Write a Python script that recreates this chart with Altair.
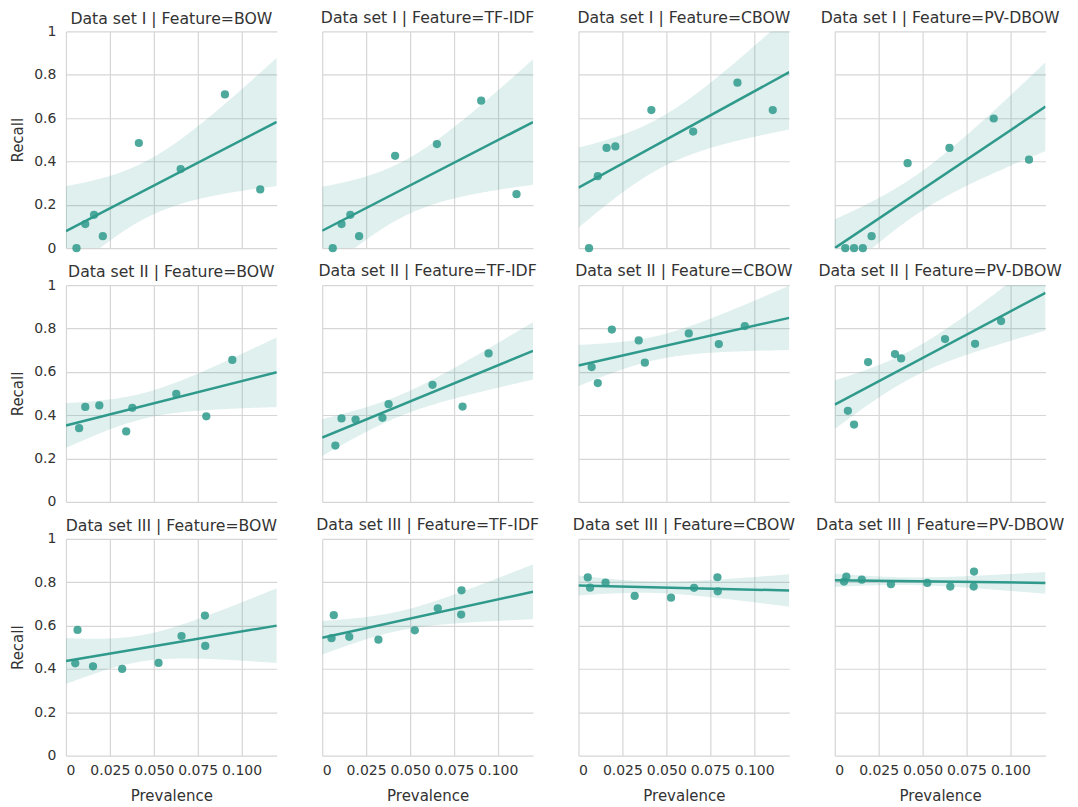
import altair as alt
import numpy as np
import pandas as pd

datasets = ["I", "II", "III"]
features = ["BOW", "TF-IDF", "CBOW", "PV-DBOW"]

# Prevalence of each category (shared within a data set)
prevalence_I = [0.006, 0.011, 0.016, 0.021, 0.0415, 0.0653, 0.0905, 0.1106]
prevalence_II = [0.0075, 0.011, 0.019, 0.0343, 0.0378, 0.0628, 0.0799, 0.0947]
prevalence_III = [0.0053, 0.0066, 0.0154, 0.032, 0.0527, 0.0658, 0.0791, 0.0793]

# Recall per category
recall_I_BOW = [0.0, 0.111, 0.154, 0.055, 0.485, 0.365, 0.709, 0.271]
recall_I_TFIDF = [0.0, 0.111, 0.154, 0.055, 0.426, 0.480, 0.680, 0.249]
recall_I_CBOW = [0.0, 0.332, 0.462, 0.469, 0.637, 0.538, 0.763, 0.637]
recall_I_PVDBOW = [0.0, 0.0, 0.0, 0.055, 0.392, 0.462, 0.598, 0.408]

recall_II_BOW = [0.340, 0.438, 0.445, 0.325, 0.434, 0.498, 0.395, 0.655]
recall_II_TFIDF = [0.260, 0.385, 0.380, 0.388, 0.451, 0.540, 0.440, 0.685]
recall_II_CBOW = [0.622, 0.548, 0.795, 0.745, 0.642, 0.777, 0.728, 0.811]
recall_II_PVDBOW = [0.420, 0.357, 0.645, 0.682, 0.662, 0.751, 0.729, 0.834]

recall_III_BOW = [0.426, 0.580, 0.412, 0.400, 0.428, 0.552, 0.646, 0.506]
recall_III_TFIDF = [0.542, 0.648, 0.548, 0.535, 0.578, 0.680, 0.651, 0.763]
recall_III_CBOW = [0.822, 0.775, 0.798, 0.737, 0.729, 0.774, 0.823, 0.758]
recall_III_PVDBOW = [0.803, 0.826, 0.812, 0.791, 0.797, 0.780, 0.780, 0.849]

x_ticks = [0, 0.025, 0.05, 0.075, 0.1]
y_ticks = [0, 0.2, 0.4, 0.6, 0.8, 1.0]
x_domain = [0, 0.12]

prevalence = {"I": prevalence_I, "II": prevalence_II, "III": prevalence_III}
recall = {
    ("I", "BOW"): recall_I_BOW, ("I", "TF-IDF"): recall_I_TFIDF,
    ("I", "CBOW"): recall_I_CBOW, ("I", "PV-DBOW"): recall_I_PVDBOW,
    ("II", "BOW"): recall_II_BOW, ("II", "TF-IDF"): recall_II_TFIDF,
    ("II", "CBOW"): recall_II_CBOW, ("II", "PV-DBOW"): recall_II_PVDBOW,
    ("III", "BOW"): recall_III_BOW, ("III", "TF-IDF"): recall_III_TFIDF,
    ("III", "CBOW"): recall_III_CBOW, ("III", "PV-DBOW"): recall_III_PVDBOW,
}

COLOR = "#2f9a8c"
FONT = "DejaVu Sans"
TEXT = "#333333"


def ci_band(x, y, z=1.96, n=121):
    """95% confidence band of the OLS fit, computed from the data."""
    x = np.asarray(x, float)
    y = np.asarray(y, float)
    xm = x.mean()
    sxx = ((x - xm) ** 2).sum()
    b = ((x - xm) * (y - y.mean())).sum() / sxx
    a = y.mean() - b * xm
    res = y - (a + b * x)
    s = np.sqrt((res ** 2).sum() / (len(x) - 2))
    g = np.linspace(x_domain[0], x_domain[1], n)
    se = s * np.sqrt(1 / len(x) + (g - xm) ** 2 / sxx)
    fit = a + b * g
    return pd.DataFrame({"Prevalence": g, "lo": fit - z * se, "hi": fit + z * se})


def panel(ds, feat, row, col):
    pts = pd.DataFrame({"Prevalence": prevalence[ds], "Recall": recall[(ds, feat)]})
    band = ci_band(pts["Prevalence"], pts["Recall"])
    bottom = row == len(datasets) - 1
    left = col == 0

    x_axis = alt.Axis(
        values=x_ticks, grid=True, ticks=False, domain=False,
        labels=bottom,
        labelExpr="datum.value == 0 ? '0' : format(datum.value, '.3f')",
        labelPadding=8, titlePadding=11,
    )
    y_axis = alt.Axis(
        values=y_ticks, grid=True, ticks=False, domain=False,
        labels=left, format=".1~f", labelPadding=10, titlePadding=8,
    )
    xs = alt.Scale(domain=x_domain, nice=False, zero=False)
    ys = alt.Scale(domain=[0, 1], nice=False, clamp=True)
    xt = "Prevalence" if bottom else None
    yt = "Recall" if left else None

    area = alt.Chart(band).mark_area(color=COLOR, opacity=0.15, clip=True).encode(
        x=alt.X("Prevalence:Q", scale=xs, axis=x_axis, title=xt),
        y=alt.Y("lo:Q", scale=ys, axis=y_axis, title=yt),
        y2="hi:Q",
    )
    line = alt.Chart(pts).transform_regression(
        "Prevalence", "Recall", extent=x_domain
    ).mark_line(color=COLOR, strokeWidth=2.5, clip=True).encode(
        x=alt.X("Prevalence:Q", scale=xs, axis=x_axis, title=xt),
        y=alt.Y("Recall:Q", scale=ys, axis=y_axis, title=yt),
    )
    points = alt.Chart(pts).mark_circle(color=COLOR, opacity=0.85, size=68).encode(
        x=alt.X("Prevalence:Q", scale=xs, axis=x_axis, title=xt),
        y=alt.Y("Recall:Q", scale=ys, axis=y_axis, title=yt),
    )
    # first column carries y labels that overhang the plot top; compensate
    title_offset = -3 if left else 5
    return alt.layer(area, line, points).properties(
        width=211, height=217,
        title=alt.TitleParams(f"Data set {ds} | Feature={feat}", offset=title_offset),
    )


rows = []
for r, ds in enumerate(datasets):
    rows.append(
        alt.hconcat(*[panel(ds, f, r, c) for c, f in enumerate(features)],
                    spacing=45.5, bounds="flush")
    )

chart = alt.vconcat(*rows, spacing=8).properties(
    padding={"left": 2, "top": 1, "right": 5, "bottom": 2}
).configure_view(stroke=None).configure_axis(
    labelFont=FONT, titleFont=FONT, labelFontSize=14, titleFontSize=15,
    labelColor=TEXT, titleColor=TEXT, titleFontWeight="normal",
    gridColor="#d6d6d6", gridWidth=1.2,
).configure_title(
    font=FONT, fontSize=15.7, fontWeight="normal", color=TEXT,
    anchor="middle",
)

chart.save("out.html", embed_options={"renderer": "svg", "actions": False})
